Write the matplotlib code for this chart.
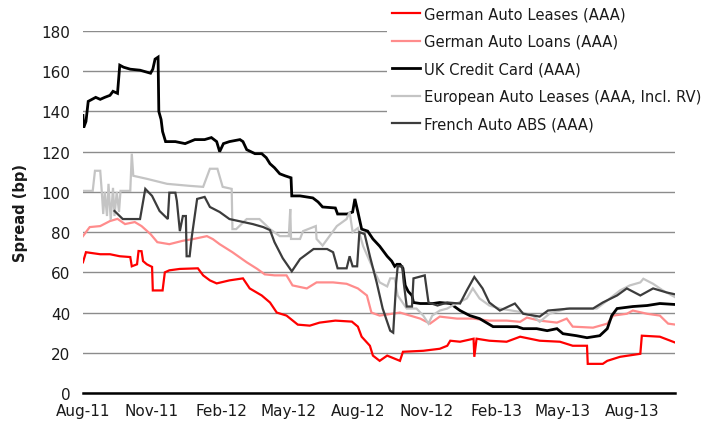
import matplotlib
matplotlib.use("Agg")
import matplotlib.pyplot as plt
import matplotlib.dates as mdates
import pandas as pd

plt.rcParams["font.family"] = ["DejaVu Sans"]

# German Auto Leases (AAA)
gal_dates = ["2011-08-01", "2011-08-05", "2011-08-24", "2011-09-06", "2011-09-19", "2011-10-03",
             "2011-10-05", "2011-10-12", "2011-10-14", "2011-10-18", "2011-10-20", "2011-10-25",
             "2011-11-01", "2011-11-02", "2011-11-15", "2011-11-18", "2011-11-24", "2011-12-08",
             "2012-01-01", "2012-01-08", "2012-01-17", "2012-01-26", "2012-02-12", "2012-03-01",
             "2012-03-10", "2012-03-26", "2012-04-06", "2012-04-15", "2012-04-28", "2012-05-13",
             "2012-05-29", "2012-06-11", "2012-07-02", "2012-07-24", "2012-08-01", "2012-08-06",
             "2012-08-17", "2012-08-21", "2012-08-30", "2012-09-09", "2012-09-26", "2012-09-30",
             "2012-10-27", "2012-11-18", "2012-11-28", "2012-12-02", "2012-12-15", "2013-01-02",
             "2013-01-03", "2013-01-06", "2013-01-23", "2013-02-15", "2013-03-05", "2013-03-31",
             "2013-04-27", "2013-05-14", "2013-06-02", "2013-06-03", "2013-06-23", "2013-06-29",
             "2013-07-16", "2013-08-12", "2013-08-14", "2013-09-07", "2013-09-28"]
gal_vals = [65, 70, 69, 69, 68, 67.6,
            63, 64, 70.6, 70.5, 65.6, 64,
            62.7, 51, 51, 60, 61, 61.7,
            62, 58.5, 56, 54.5, 56, 57,
            52, 48.5, 45, 40, 38.5, 34,
            33.5, 35, 36, 35.5, 33, 28,
            23.5, 18.6, 16, 18.6, 16, 20.5,
            21, 22, 23.5, 26, 25.5, 27,
            18, 27, 26, 25.5, 28, 26,
            25.5, 23.5, 23.5, 14.5, 14.5, 16,
            18, 19.5, 28.5, 28, 25]

# German Auto Loans (AAA)
glo_dates = ["2011-08-01", "2011-08-10", "2011-08-24", "2011-09-06", "2011-09-16", "2011-09-26",
             "2011-10-09", "2011-10-18", "2011-10-30", "2011-11-08", "2011-11-24", "2011-12-12",
             "2011-12-25", "2012-01-13", "2012-01-21", "2012-01-30", "2012-02-16", "2012-03-06",
             "2012-03-20", "2012-03-30", "2012-04-12", "2012-04-28", "2012-05-06", "2012-05-25",
             "2012-06-07", "2012-06-29", "2012-07-17", "2012-08-01", "2012-08-13", "2012-08-19",
             "2012-08-30", "2012-09-26", "2012-10-23", "2012-11-05", "2012-11-18", "2012-12-11",
             "2013-01-01", "2013-01-23", "2013-02-15", "2013-03-05", "2013-03-14", "2013-03-31",
             "2013-04-23", "2013-05-06", "2013-05-14", "2013-06-10", "2013-06-29", "2013-07-07",
             "2013-07-25", "2013-08-02", "2013-08-21", "2013-09-07", "2013-09-18", "2013-09-28"]
glo_vals = [78, 82.5, 83, 85.5, 86.6, 84,
            85, 83, 79, 75, 74, 75.7,
            76.5, 78, 76.5, 74, 70, 65,
            61.7, 59, 58.5, 58.5, 53.5, 52,
            55, 55, 54.3, 52, 48.5, 40,
            38.5, 40, 37, 34.5, 38, 37,
            37, 36, 36, 35.4, 37.5, 36,
            35, 37, 33, 32.5, 34.5, 38.5,
            39.4, 41, 39.4, 38.5, 34.5, 34]

# UK Credit Card (AAA)
uk_dates = ["2011-08-01", "2011-08-02", "2011-08-05", "2011-08-08", "2011-08-13", "2011-08-18",
            "2011-08-24", "2011-08-30", "2011-09-06", "2011-09-10", "2011-09-16", "2011-09-19",
            "2011-09-24", "2011-10-03", "2011-10-16", "2011-10-30", "2011-11-02", "2011-11-05",
            "2011-11-09", "2011-11-10", "2011-11-13", "2011-11-15", "2011-11-19", "2011-12-02",
            "2011-12-15", "2011-12-28", "2012-01-10", "2012-01-19", "2012-01-26", "2012-01-30",
            "2012-02-04", "2012-02-12", "2012-02-26", "2012-03-01", "2012-03-06", "2012-03-17",
            "2012-03-26", "2012-04-01", "2012-04-06", "2012-04-12", "2012-04-19", "2012-04-26",
            "2012-05-04", "2012-05-05", "2012-05-16", "2012-06-02", "2012-06-09", "2012-06-15",
            "2012-07-02", "2012-07-05", "2012-07-18", "2012-07-25", "2012-07-28", "2012-08-01",
            "2012-08-06", "2012-08-14", "2012-08-21", "2012-08-30", "2012-09-09", "2012-09-15",
            "2012-09-19", "2012-09-22", "2012-09-26", "2012-09-30", "2012-10-03", "2012-10-07",
            "2012-10-12", "2012-10-14", "2012-10-23", "2012-11-09", "2012-11-18", "2012-12-02",
            "2012-12-15", "2012-12-28", "2013-01-10", "2013-01-28", "2013-02-10", "2013-03-01",
            "2013-03-09", "2013-03-27", "2013-04-10", "2013-04-23", "2013-05-01", "2013-05-19",
            "2013-06-02", "2013-06-19", "2013-06-29", "2013-07-05", "2013-07-12", "2013-08-02",
            "2013-08-21", "2013-09-07", "2013-09-28"]
uk_vals = [138, 132, 135, 145, 146, 147,
           146, 147, 148, 150, 149, 163,
           162, 161, 160.5, 159, 161, 166,
           167, 140, 136, 130, 125, 125,
           124, 126, 126, 127, 125, 120,
           124, 125, 126, 125, 121, 119,
           119, 117, 114, 112, 109, 108,
           107, 98, 98, 97, 95, 92.5,
           92, 89, 89, 90, 96.5, 90,
           81.5, 80.5, 76.6, 73, 68, 65.6,
           63, 64, 64, 62, 53.5, 50.5,
           48.5, 45, 44.5, 44.5, 45, 44.5,
           41, 38.5, 37, 33, 33, 33,
           32, 32, 31, 32, 29.5, 28.5,
           27.5, 28.5, 32, 38.5, 42, 43,
           43.5, 44.5, 44]

# European Auto Leases (AAA, Incl. RV)
eal_dates = ["2011-08-01", "2011-08-14", "2011-08-17", "2011-08-24", "2011-08-26", "2011-08-28",
             "2011-08-30", "2011-09-02", "2011-09-04", "2011-09-07", "2011-09-10", "2011-09-12",
             "2011-09-15", "2011-09-18", "2011-09-20", "2011-10-03", "2011-10-05", "2011-10-07",
             "2011-10-25", "2011-11-21", "2011-12-21", "2012-01-08", "2012-01-17", "2012-01-27",
             "2012-02-03", "2012-02-15", "2012-02-16", "2012-02-21", "2012-03-06", "2012-03-23",
             "2012-04-06", "2012-04-19", "2012-05-01", "2012-05-03", "2012-05-04", "2012-05-16",
             "2012-05-20", "2012-06-06", "2012-06-07", "2012-06-15", "2012-07-04", "2012-07-17",
             "2012-07-21", "2012-07-25", "2012-08-01", "2012-08-08", "2012-08-21", "2012-08-30",
             "2012-09-09", "2012-09-13", "2012-09-19", "2012-09-23", "2012-10-05", "2012-10-18",
             "2012-10-27", "2012-11-03", "2012-11-08", "2012-11-18", "2012-11-28", "2012-12-05",
             "2012-12-24", "2013-01-01", "2013-01-10", "2013-01-23", "2013-02-06", "2013-03-05",
             "2013-03-22", "2013-03-31", "2013-04-13", "2013-05-06", "2013-06-15", "2013-06-29",
             "2013-07-16", "2013-07-29", "2013-08-12", "2013-08-16", "2013-08-29", "2013-09-11",
             "2013-09-28"]
eal_vals = [100.5, 100.5, 110.5, 110.5, 100.5, 89,
            100, 88, 104, 86, 102, 88,
            100, 90, 100.5, 100.5, 119, 108,
            106.5, 104, 103, 102.5, 111.5, 111.5,
            102.5, 101.5, 81.5, 81.5, 86.5, 86.5,
            81.5, 78, 78, 91.5, 76.6, 76.6,
            80.5, 83, 76.6, 73.3, 83, 86.5,
            90, 80, 82, 73, 62, 55,
            53, 57, 57, 48.5, 42, 42,
            38.5, 34.5, 38.5, 41, 42, 43.5,
            47, 52, 47, 43.5, 42, 40.3,
            38.5, 35.4, 39.4, 42, 42, 46,
            51, 53.5, 55, 56.8, 54.3, 51,
            47.5]

# French Auto ABS (AAA)
fr_dates = ["2011-09-12", "2011-09-23", "2011-10-16", "2011-10-23", "2011-11-01", "2011-11-11",
            "2011-11-22", "2011-11-24", "2011-12-02", "2011-12-04", "2011-12-08", "2011-12-12",
            "2011-12-16", "2011-12-17", "2011-12-21", "2011-12-24", "2011-12-31", "2012-01-10",
            "2012-01-17", "2012-01-30", "2012-02-12", "2012-03-14", "2012-03-28", "2012-04-06",
            "2012-04-12", "2012-04-23", "2012-05-05", "2012-05-16", "2012-06-03", "2012-06-21",
            "2012-06-29", "2012-07-05", "2012-07-17", "2012-07-21", "2012-07-25", "2012-07-31",
            "2012-08-03", "2012-08-10", "2012-08-17", "2012-08-26", "2012-09-03", "2012-09-13",
            "2012-09-17", "2012-09-21", "2012-09-23", "2012-09-29", "2012-10-01", "2012-10-05",
            "2012-10-12", "2012-10-14", "2012-10-29", "2012-11-03", "2012-11-15", "2012-11-28",
            "2012-12-15", "2012-12-24", "2013-01-03", "2013-01-14", "2013-01-23", "2013-02-06",
            "2013-02-26", "2013-03-09", "2013-03-31", "2013-04-11", "2013-05-10", "2013-06-10",
            "2013-06-23", "2013-07-12", "2013-07-25", "2013-08-12", "2013-08-29", "2013-09-16",
            "2013-09-28"]
fr_vals = [90.5, 86.5, 86.5, 101.5, 98, 90.5,
           86.5, 99.6, 99.6, 95.5, 80.5, 88,
           88, 68, 68, 78, 96.5, 97.5,
           92.5, 90, 86.5, 84, 82.5, 81,
           75, 67, 60.5, 66.6, 71.6, 71.6,
           70, 62, 62, 68, 63, 63,
           80, 79, 68, 55, 42, 31,
           30, 55, 63, 63, 55, 43,
           43, 57, 58.5, 45, 43.5, 45,
           44.5, 51, 57.7, 52, 45, 41,
           44.5, 39.4, 38, 41, 42, 42,
           45, 48.5, 52, 48.5, 52, 50,
           49]

series = [
    ("German Auto Leases (AAA)", gal_dates, gal_vals, "#ff0000", 1.6),
    ("German Auto Loans (AAA)", glo_dates, glo_vals, "#ff8c8c", 1.6),
    ("UK Credit Card (AAA)", uk_dates, uk_vals, "#000000", 2.0),
    ("European Auto Leases (AAA, Incl. RV)", eal_dates, eal_vals, "#c4c4c4", 1.6),
    ("French Auto ABS (AAA)", fr_dates, fr_vals, "#3c3c3c", 1.6),
]

text_col = "#1a1a1a"

fig = plt.figure(figsize=(7.03, 4.31), dpi=100)
ax = fig.add_axes([0.118, 0.0858, 0.842, 0.84])

for label, d, v, c, lw in series:
    ax.plot(pd.to_datetime(d), v, color=c, lw=lw, label=label, solid_joinstyle="miter")

ax.set_ylim(0, 180)
ax.set_yticks(range(0, 181, 20))
ax.set_xlim(pd.Timestamp("2011-08-01"), pd.Timestamp("2013-09-27"))
ax.xaxis.set_major_locator(mdates.MonthLocator(bymonth=[2, 5, 8, 11]))
ax.xaxis.set_major_formatter(mdates.DateFormatter("%b-%y"))

ax.grid(axis="y", color="#8c8c8c", lw=1)
ax.set_axisbelow(True)
for s in ["top", "right", "left"]:
    ax.spines[s].set_visible(False)
ax.spines["bottom"].set_color("#000000")
ax.spines["bottom"].set_linewidth(1.8)
ax.tick_params(length=0, labelsize=11, labelcolor=text_col)
ax.tick_params(axis="y", pad=9)
ax.tick_params(axis="x", pad=7)
ax.set_ylabel("Spread (bp)", fontsize=10.5, fontweight="bold", color=text_col, labelpad=10)

leg = ax.legend(loc="upper left", bbox_to_anchor=(0.551, 0.994), bbox_transform=fig.transFigure,
                fontsize=10.6, frameon=True, framealpha=1, facecolor="white", edgecolor="none",
                fancybox=False, handlelength=1.9, handletextpad=0.3, labelspacing=0.86,
                borderpad=0.3, borderaxespad=0)
for t in leg.get_texts():
    t.set_color(text_col)

fig.savefig("out.png", dpi=100)
